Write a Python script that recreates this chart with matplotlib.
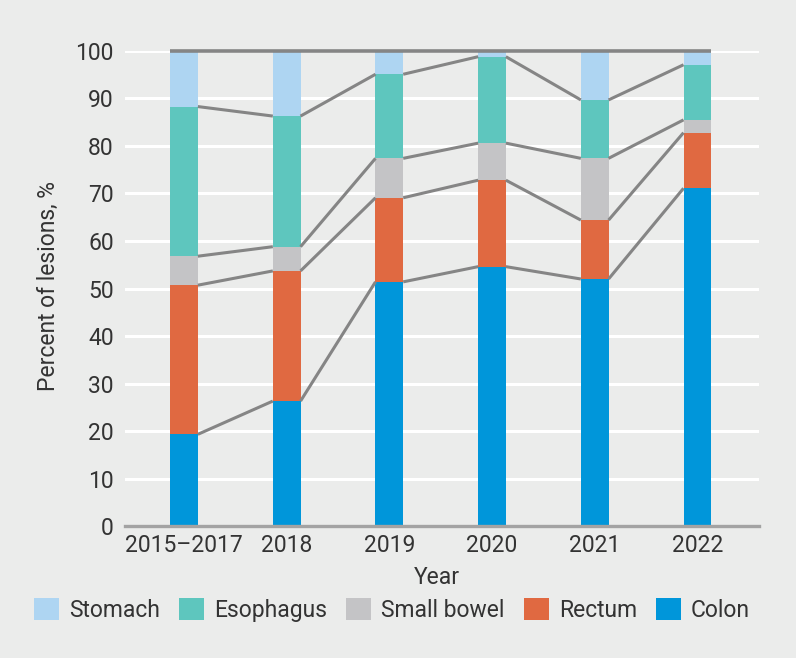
import matplotlib
matplotlib.use('Agg')
import matplotlib.pyplot as plt
import numpy

years = ['2015–2017', '2018', '2019', '2020', '2021', '2022']
colon = [19.3, 26.3, 51.4, 54.6, 52.0, 71.1]
rectum = [31.4, 27.4, 17.7, 18.2, 12.4, 11.7]
smallBowel = [6.1, 5.1, 8.3, 7.8, 13.0, 2.7]
esophagus = [31.5, 27.5, 17.7, 18.2, 12.3, 11.6]
stomach = [11.7, 13.7, 4.9, 1.2, 10.3, 2.9]

names = ['Colon', 'Rectum', 'Small bowel', 'Esophagus', 'Stomach']
colors = ['#0096DA', '#E06941', '#C4C4C6', '#5EC6BE', '#AED5F2']
series = [colon, rectum, smallBowel, esophagus, stomach]

bg = '#EBECEB'
txt = '#333333'
fs = 16.5
plt.rcParams['font.family'] = ['Roboto', 'DejaVu Sans']
plt.rcParams['font.size'] = fs

fig = plt.figure(figsize=(7.96, 6.58), dpi=100, facecolor=bg)
ax = fig.add_axes([0.157, 0.2006, 0.7965, 0.7219])
ax.set_facecolor(bg)

x = numpy.arange(len(years))
width = 0.27
bottom = numpy.zeros(len(years))
bars = []
tops = []
for values, name, color in zip(series, names, colors):
    b = ax.bar(x, values, width, bottom=bottom, color=color, label=name, zorder=2)
    bars.append(b)
    bottom = bottom + numpy.array(values)
    tops.append(bottom.copy())

# connector lines between cumulative boundaries
for t in tops[:-1]:
    for i in range(len(years) - 1):
        ax.plot([x[i] + width / 2, x[i + 1] - width / 2], [t[i], t[i + 1]],
                color='#858585', lw=2.2, zorder=3, solid_capstyle='butt')
ax.plot([x[0] - width / 2, x[-1] + width / 2], [100, 100], color='#858585', lw=2.6,
        zorder=3, clip_on=False, solid_capstyle='butt')

ax.set_ylim(0, 100)
ax.set_xlim(-0.575, 5.6)
ax.set_yticks(numpy.arange(0, 101, 10))
ax.set_xticks(x)
ax.set_xticklabels(years)
ax.yaxis.grid(True, color='white', lw=2.2, zorder=0)
ax.set_axisbelow(True)
for s in ['top', 'right', 'left']:
    ax.spines[s].set_visible(False)
ax.spines['bottom'].set_color('#A3A3A3')
ax.spines['bottom'].set_linewidth(2.4)
ax.spines['bottom'].set_zorder(4)
ax.tick_params(length=0, colors=txt, labelsize=fs)
ax.tick_params(axis='y', pad=8)
ax.tick_params(axis='x', pad=6)

fig.text(437 / 796, 1 - 578 / 658, 'Year', ha='center', va='center', color=txt, fontsize=fs)
fig.text(48 / 796, 1 - 286 / 658, 'Percent of lesions, %', ha='center', va='center',
         rotation=90, color=txt, fontsize=fs)

handles = bars[::-1]
labels = names[::-1]
fig.legend(handles, labels, ncol=5, loc='center', bbox_to_anchor=(0.4925, 0.073),
           frameon=False, fontsize=fs, handlelength=1.09, handleheight=1.13,
           handletextpad=0.44, columnspacing=0.83, labelcolor=txt)

plt.savefig('out.png', dpi=100, facecolor=bg)
